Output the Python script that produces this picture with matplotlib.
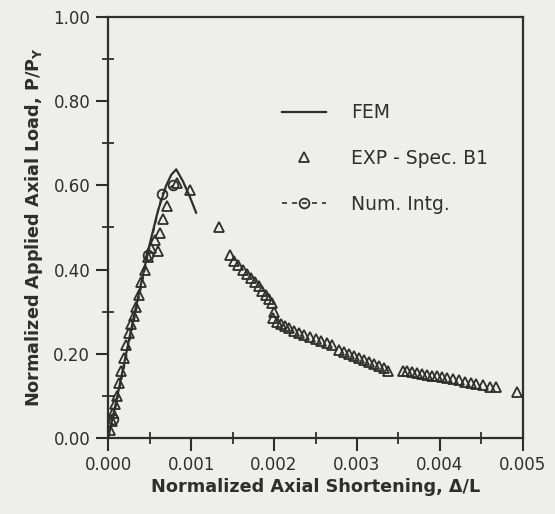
import matplotlib
matplotlib.use("Agg")
import matplotlib.pyplot as plt
from matplotlib.ticker import MultipleLocator, FormatStrFormatter

plt.rcParams['font.family'] = ['DejaVu Sans']
plt.rcParams['mathtext.fontset'] = 'dejavusans'

# ---- data ----
fem_x = [0.0, 0.0001, 0.0002, 0.0003, 0.0004, 0.0005, 0.0006, 0.0007, 0.00076, 0.00082, 0.0009, 0.00098, 0.00106]
fem_y = [0.0, 0.09, 0.185, 0.28, 0.37, 0.46, 0.54, 0.60, 0.625, 0.638, 0.61, 0.575, 0.535]

num_x = [0.0, 0.00006, 0.00048, 0.00065, 0.00078]
num_y = [0.0, 0.045, 0.435, 0.58, 0.60]

exp_x = [0.00002, 0.00004, 0.00006, 0.00008, 0.0001, 0.00013, 0.00016, 0.00019, 0.00022,
         0.00025, 0.00028, 0.00031, 0.00034, 0.00037, 0.0004, 0.00044, 0.00048, 0.00052,
         0.00056, 0.0006, 0.00063, 0.00066, 0.00071, 0.00083, 0.00099,
         0.00133, 0.00147, 0.00152, 0.00157, 0.00162, 0.00167, 0.00172, 0.00177, 0.00182,
         0.00186, 0.0019, 0.00194, 0.00197, 0.002, 0.00199, 0.00203, 0.00208, 0.00213,
         0.00218, 0.00224, 0.0023, 0.00236, 0.00243, 0.0025, 0.00257, 0.00264, 0.0027,
         0.00278, 0.00284, 0.0029, 0.00296, 0.00302, 0.00309, 0.00315, 0.0032, 0.00326,
         0.00332, 0.00337, 0.00355, 0.0036, 0.00366, 0.00372, 0.00378, 0.00384, 0.0039,
         0.00396, 0.00402, 0.00409, 0.00416, 0.00423, 0.0043, 0.00437, 0.00444, 0.00452,
         0.0046, 0.00468, 0.00493]
exp_y = [0.02, 0.04, 0.06, 0.08, 0.10, 0.13, 0.16, 0.19, 0.22,
         0.25, 0.27, 0.29, 0.31, 0.34, 0.37, 0.40, 0.43, 0.45,
         0.47, 0.445, 0.486, 0.52, 0.55, 0.605, 0.588,
         0.50, 0.435, 0.42, 0.41, 0.40, 0.39, 0.38, 0.37, 0.36,
         0.35, 0.34, 0.33, 0.32, 0.30, 0.285, 0.275, 0.27, 0.265,
         0.26, 0.255, 0.25, 0.245, 0.24, 0.235, 0.23, 0.225, 0.22,
         0.21, 0.205, 0.20, 0.195, 0.19, 0.185, 0.18, 0.175, 0.17,
         0.165, 0.16, 0.16, 0.158, 0.156, 0.154, 0.152, 0.15, 0.148,
         0.146, 0.144, 0.142, 0.14, 0.137, 0.134, 0.131, 0.128, 0.125,
         0.122, 0.12, 0.11]

x_ticks = [0.000, 0.001, 0.002, 0.003, 0.004, 0.005]
y_ticks = [0.0, 0.2, 0.4, 0.6, 0.8, 1.0]

ink = '#2e2e2e'
bg = '#eeeeea'

fig = plt.figure(figsize=(5.55, 5.14), dpi=100, facecolor=bg)
ax = fig.add_axes([0.195, 0.148, 0.747, 0.819])
ax.set_facecolor(bg)

ax.plot(fem_x, fem_y, '-', color=ink, lw=1.6, label='FEM')
ax.plot(exp_x, exp_y, '^', ls='none', ms=7.5, mfc='none', mec=ink, mew=1.3, label='EXP - Spec. B1')
ax.plot(num_x, num_y, '--', color=ink, lw=1.2, marker='o', ms=7, mfc='none', mec=ink, mew=1.3,
        dashes=(3, 3), markevery=[1, 2, 3, 4], label='Num. Intg.')

ax.set_xlim(0, 0.005)
ax.set_ylim(0, 1.0)
ax.set_xticks(x_ticks)
ax.set_yticks(y_ticks)
ax.xaxis.set_minor_locator(MultipleLocator(0.0005))
ax.yaxis.set_minor_locator(MultipleLocator(0.1))
ax.xaxis.set_major_formatter(FormatStrFormatter('%.3f'))
ax.yaxis.set_major_formatter(FormatStrFormatter('%.2f'))

ax.tick_params(which='major', direction='out', length=9, width=1.5, colors=ink, labelsize=12, pad=4)
ax.tick_params(which='minor', direction='inout', length=8, width=1.3, colors=ink)
for s in ax.spines.values():
    s.set_linewidth(1.6)
    s.set_color(ink)

ax.set_xlabel('Normalized Axial Shortening, \u0394/L', fontsize=12.7, fontweight='bold', color=ink, labelpad=3)
ax.set_ylabel('Normalized Applied Axial Load, P/P$_\\mathbf{Y}$', fontsize=12.7, fontweight='bold', color=ink, labelpad=6)

leg = ax.legend(loc='upper left', bbox_to_anchor=(0.42, 0.795), frameon=False, fontsize=13.5,
                borderpad=0, borderaxespad=0,
                handlelength=2.35, handletextpad=1.3, labelspacing=1.42, numpoints=1)
for t in leg.get_texts():
    t.set_color(ink)

fig.savefig('out.png', dpi=100, facecolor=bg)
